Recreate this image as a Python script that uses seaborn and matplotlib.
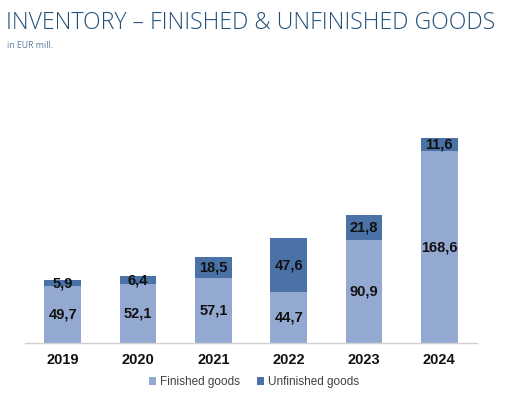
import numpy as np
import pandas as pd
import matplotlib.pyplot as plt
import seaborn as sns

# Données (EUR mill.)
years = ["2019", "2020", "2021", "2022", "2023", "2024"]
finished = [49.7, 52.1, 57.1, 44.7, 90.9, 168.6]
unfinished = [5.9, 6.4, 18.5, 47.6, 21.8, 11.6]

c_fin = "#94a9d2"
c_unf = "#4a72a6"

df = pd.DataFrame({"year": years, "finished": finished, "unfinished": unfinished})
df["total"] = df["finished"] + df["unfinished"]

sns.set_style("white")
plt.rcParams["font.family"] = ["Liberation Sans", "DejaVu Sans"]

fig = plt.figure(figsize=(5.08, 3.93), dpi=100)
ax = fig.add_axes([0.0492, 0.1272, 0.8898, 0.579])

# barres empilées : total (foncé) puis finished (clair) par-dessus
sns.barplot(data=df, x="year", y="total", color=c_unf, width=0.49,
            saturation=1, ax=ax, label="Unfinished goods", linewidth=0)
sns.barplot(data=df, x="year", y="finished", color=c_fin, width=0.49,
            saturation=1, ax=ax, label="Finished goods", linewidth=0)

fmt = lambda v: f"{v:.1f}".replace(".", ",")
for i, row in df.iterrows():
    ax.text(i, row["finished"] / 2, fmt(row["finished"]), ha="center", va="center",
            fontsize=10.5, fontweight="bold", color="#111111")
    ax.text(i, row["finished"] + row["unfinished"] / 2, fmt(row["unfinished"]),
            ha="center", va="center", fontsize=10.5, fontweight="bold", color="#111111")

ax.set_ylim(0, 200)
ax.set_xlim(-0.5, 5.5)
ax.set_xlabel("")
ax.set_ylabel("")
ax.set_yticks([])
ax.tick_params(axis="x", length=0, pad=7)
for lbl in ax.get_xticklabels():
    lbl.set_fontweight("bold")
    lbl.set_fontsize(10.5)
    lbl.set_color("#111111")
for s in ["top", "right", "left"]:
    ax.spines[s].set_visible(False)
ax.spines["bottom"].set_color("#d0d0d0")
ax.spines["bottom"].set_linewidth(1)

h, l = ax.get_legend_handles_labels()
if ax.get_legend() is not None:
    ax.get_legend().remove()
order = [l.index("Finished goods"), l.index("Unfinished goods")]
fig.legend([h[k] for k in order], [l[k] for k in order], loc="center",
           bbox_to_anchor=(0.5, 1 - 382 / 393), ncol=2, frameon=False,
           fontsize=8.5, handlelength=0.6, handleheight=0.6, handletextpad=0.3,
           columnspacing=1.5, labelcolor="#404040")

fig.text(0.012, 1 - 23 / 393, "INVENTORY \u2013 FINISHED & UNFINISHED GOODS",
         fontsize=16.6, color="#22507a", va="center", ha="left",
         family=["Open Sans", "DejaVu Sans"], fontweight="light")
fig.text(0.014, 1 - 45 / 393, "in EUR mill.", fontsize=6.3, color="#5a7a99",
         va="center", ha="left", family=["Open Sans", "DejaVu Sans"])

fig.savefig("out.png", dpi=100)
